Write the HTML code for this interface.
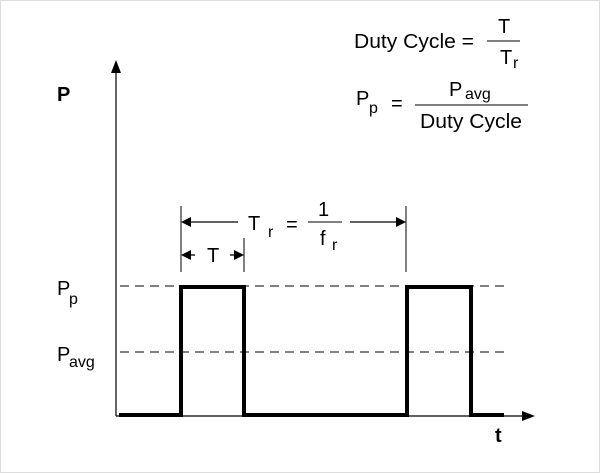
<!DOCTYPE html>
<html><head><style>
html,body{margin:0;padding:0;background:#fff;}
svg{display:block;font-family:"Liberation Sans",Arial,sans-serif;}
</style></head><body>
<svg width="600" height="473" viewBox="0 0 600 473" xmlns="http://www.w3.org/2000/svg">
<rect x="0.5" y="0.5" width="599" height="472" fill="#fff" stroke="#ddd"/>
<line x1="116" y1="68" x2="116" y2="416" stroke="#000" stroke-width="1.2"/>
<polygon points="116,60 111,73 121,73" fill="#000"/>
<line x1="116" y1="416" x2="528" y2="416" stroke="#000" stroke-width="1.2"/>
<polygon points="535,416 522,411 522,421" fill="#000"/>
<line x1="120" y1="286" x2="505" y2="286" stroke="#000" stroke-width="1" stroke-dasharray="9,6"/>
<line x1="120" y1="352" x2="505" y2="352" stroke="#000" stroke-width="1" stroke-dasharray="9,6"/>
<polyline points="119,415 181,415 181,287 244,287 244,415 407,415 407,287 471,287 471,415 504,415" fill="none" stroke="#000" stroke-width="4"/>
<line x1="181" y1="206" x2="181" y2="272" stroke="#000" stroke-width="1"/>
<line x1="406" y1="206" x2="406" y2="272" stroke="#000" stroke-width="1"/>
<line x1="244" y1="238" x2="244" y2="272" stroke="#000" stroke-width="1"/>
<line x1="183" y1="222" x2="238" y2="222" stroke="#000" stroke-width="1.3"/>
<line x1="350" y1="222" x2="404" y2="222" stroke="#000" stroke-width="1.3"/>
<polygon points="181,222 191,217 191,227" fill="#000"/>
<polygon points="406,222 396,217 396,227" fill="#000"/>
<text x="248" y="230" font-size="20">T</text>
<text x="268" y="237" font-size="16">r</text>
<text x="286" y="231" font-size="20">=</text>
<line x1="308" y1="222" x2="342" y2="222" stroke="#000" stroke-width="1"/>
<text x="318" y="216" font-size="20">1</text>
<text x="320" y="245" font-size="20">f</text>
<text x="332" y="250" font-size="16">r</text>
<line x1="183" y1="255" x2="195" y2="255" stroke="#000" stroke-width="1.3"/>
<polygon points="181,255 191,250 191,260" fill="#000"/>
<line x1="230" y1="255" x2="242" y2="255" stroke="#000" stroke-width="1.3"/>
<polygon points="244,255 234,250 234,260" fill="#000"/>
<text x="207" y="262" font-size="20">T</text>
<text x="57" y="101" font-size="20" font-weight="bold">P</text>
<text x="57" y="295" font-size="20">P</text>
<text x="69" y="304" font-size="16">p</text>
<text x="57" y="361" font-size="20">P</text>
<text x="69" y="367" font-size="16">avg</text>
<text x="495" y="442" font-size="20" font-weight="bold">t</text>
<text x="354" y="48" font-size="20" textLength="120" lengthAdjust="spacingAndGlyphs">Duty Cycle =</text>
<line x1="487" y1="41" x2="520" y2="41" stroke="#000" stroke-width="1"/>
<text x="498" y="33" font-size="20">T</text>
<text x="500" y="64" font-size="20">T</text>
<text x="513" y="68" font-size="16">r</text>
<text x="356" y="105" font-size="20">P</text>
<text x="369" y="113" font-size="16">p</text>
<text x="391" y="110" font-size="20">=</text>
<line x1="415" y1="105" x2="528" y2="105" stroke="#000" stroke-width="1"/>
<text x="449" y="96" font-size="20">P</text>
<text x="465" y="99" font-size="16">avg</text>
<text x="420" y="128" font-size="20" textLength="102" lengthAdjust="spacingAndGlyphs">Duty Cycle</text>
</svg>
</body></html>
